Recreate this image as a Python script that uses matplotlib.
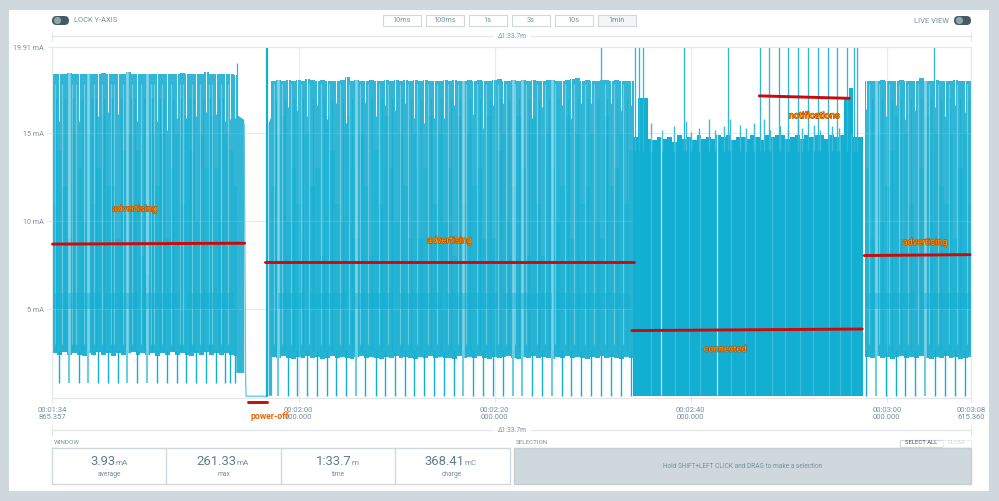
import numpy as np
import matplotlib
matplotlib.use('Agg')
import matplotlib.pyplot as plt
import matplotlib.patheffects as pe
from matplotlib.patches import Rectangle, FancyBboxPatch

plt.rcParams['font.family'] = ['Roboto', 'DejaVu Sans']

# envelopes of the trace, one value per half second (mA)
adv1_top = [18.35,18.4,18.35,18.45,18.35,18.4,18.35,18.4,18.35,18.35,18.45,18.35,18.4,18.35,18.35,18.5,18.35,18.4,18.35,18.35,18.4,18.35,18.4,18.35,18.35,18.4,18.45,18.35,18.4,18.35,18.4,18.5,18.4,18.35,18.4,18.35,18.35,18.3]
adv1_mid = [11,14,12,9,15,13,10,15,11,13,16,12,12,9,14,15,11,14,8,7,15,12,15,9,13,15,11,16,14,10,15,13,16,13,10,15,14,12]
adv1_low = [2.5,2.4,2.55,2.4,2.5,2.4,2.35,2.5,2.4,2.55,2.4,2.5,2.35,2.5,2.4,2.5,2.55,2.4,2.5,2.4,2.5,2.35,2.5,2.4,2.55,2.4,2.5,2.4,2.35,2.5,2.4,2.55,2.4,2.5,2.4,2.5,2.4,2.35]
adv2_top = [18.0,18.05,18.0,18.05,18.0,18.05,18.0,18.1,18.05,18.0,18.05,18.0,18.0,18.0,18.05,18.2,18.0,18.05,18.0,18.0,18.05,18.0,18.0,18.05,18.0,18.05,18.0,18.05,18.0,18.05,18.0,18.05,18.0,18.0,18.0,18.05,18.0,18.05,18.0,18.0,18.05,18.0,18.05,18.0,18.0,18.05,18.1,18.0,18.0,18.05,18.0,18.05,18.0,18.05,18.0,18.0,18.05,18.05,18.0,18.0,18.05,18.1,18.15,18.0,18.05,18.0,18.0,18.05,18.05,18.0,18.05,18.0,18.0,18.0]
adv2_mid = [12,15,16,10,13,11,9,15,12,13,8,16,14,11,10,16,13,9,15,12,8,14,11,16,13,10,15,12,9,15,9,13,16,11,15,10,13,8,16,11,15,12,13,9,16,9,14,15,10,12,16,13,8,16,11,8,15,13,10,12,16,9,15,11,12,15,10,9,16,12,13,15,11,14]
adv2_low = [2.3,2.2,2.35,2.2,2.15,2.3,2.2,2.35,2.2,2.3,2.15,2.2,2.35,2.2,2.3,2.2,2.15,2.3,2.35,2.2,2.3,2.2,2.15,2.3,2.2,2.35,2.2,2.3,2.2,2.15,2.3,2.2,2.35,2.2,2.3,2.2,2.2,2.15,2.35,2.2,2.3,2.2,2.35,2.2,2.15,2.3,2.2,2.3,2.35,2.2,2.15,2.3,2.2,2.35,2.2,2.3,2.2,2.15,2.3,2.2,2.35,2.2,2.3,2.2,2.15,2.3,2.2,2.35,2.2,2.3,2.2,2.15,2.3,2.2]
adv3_top = [17.95,18.0,17.95,18.05,17.95,18.0,17.95,18.05,18.0,17.95,18.0,18.15,18.0,17.95,18.05,18.0,17.95,18.0,18.05,17.95,17.95,17.95]
adv3_mid = [13,9,15,10,12,14,16,9,15,11,9,13,16,10,15,12,11,15,9,13,15,11]
adv3_low = [2.3,2.2,2.35,2.2,2.3,2.15,2.3,2.35,2.2,2.3,2.2,2.35,2.2,2.15,2.3,2.2,2.35,2.2,2.3,2.15,2.2,2.3]
conn_top = [14.8,17.0,17.0,14.7,14.6,14.8,14.7,14.8,14.5,14.9,14.7,14.8,14.6,14.9,14.7,14.8,14.7,14.9,14.8,14.9,14.6,14.8,14.8,14.7,14.9,14.8,14.6,14.9,14.8,14.9,14.9,14.7,14.8,14.9,14.7,14.9,14.8,14.9,14.9,14.7,14.9,14.8,14.9,17.0,17.6,14.8,14.8]

# narrow peaks sticking out of the connected block
conn_peak_t = [155.9,157.1,158.3,159.5,160.0,160.8,161.9,162.5,163.4,164.0,165.0,165.6,166.5,167.5,168.1,169.1,169.9,170.9,171.4,172.6,173.2,174.4,175.1]
conn_peak_v = [15.6,15.2,15.4,15.7,15.1,15.3,15.8,15.2,15.4,15.8,15.5,15.3,15.6,15.8,15.2,15.4,15.2,15.8,15.3,15.5,15.2,15.4,15.3]

# one second beacons: where the trace drops, and how far the top gap reaches (0 = pale column)
adv1_drop_t = [95.56,96.55,97.57,98.55,99.54,100.53,101.55,102.53,103.52,104.54,105.53,106.55,107.57,108.55,109.54,110.56,111.55,112.53,113.04,113.52]
adv1_gap = [15.7,0,15.7,0,16.0,16.2,16.1,0,15.7,0,15.7,15.2,15.9,15.9,16.0,16.2,16.1,15.7,15.8,15.9]
adv2_drop_t = [117.88,118.88,119.85,120.84,121.86,122.88,123.83,124.85,125.84,126.78,127.88,128.83,129.85,130.87,131.82,132.84,133.83,134.82,135.84,136.82,137.81,138.83,139.85,140.87,141.86,142.84,143.80,144.82,145.84,146.86,147.80,148.83,149.85,150.87,151.82,152.84,153.86]
adv2_gap = [0,16.5,16.3,16.0,16.6,15.8,16.7,15.6,0,16.8,16.0,16.6,16.3,16.7,15.9,15.6,15.9,15.9,16.6,0,16.1,15.3,16.6,16.7,0,0,15.9,16.5,0,16.6,15.9,16.7,16.7,16.6,16.7,16.3,16.6]
adv3_drop_t = [177.88,178.86,179.88,180.90,181.89,182.91,183.93,184.95,185.97,186.96,187.94]
adv3_gap = [16.4,0,16.0,16.6,15.8,16.3,0,16.5,16.0,16.6,16.2]

# finer streaks inside the advertising blocks
adv1_pale_t = [95.1,95.9,96.9,97.3,98.1,99.1,99.9,100.9,101.2,102.1,103.0,103.9,104.9,105.2,106.1,107.0,107.9,108.2,109.1,109.9,110.9,111.2,112.1,112.8]
adv1_dark_t = [95.3,96.2,97.0,97.9,98.9,99.3,100.2,101.0,101.9,102.9,103.3,104.2,105.0,105.9,106.3,107.2,108.0,108.9,109.3,110.2,111.0,111.9,112.3]
adv2_pale_t = [117.5,118.3,119.2,120.2,121.1,122.3,123.1,124.2,125.1,126.3,127.1,128.2,129.1,130.3,131.2,132.1,133.2,134.1,135.2,136.3,137.1,138.2,139.1,140.3,141.2,142.1,143.2,144.3,145.1,146.2,147.2,148.1,149.2,150.1,151.3,152.2,153.1]
adv2_dark_t = [117.7,118.6,119.5,120.5,121.5,122.6,123.4,124.5,125.4,126.5,127.5,128.5,129.5,130.6,131.5,132.5,133.5,134.5,135.5,136.5,137.5,138.5,139.5,140.6,141.5,142.5,143.5,144.5,145.5,146.5,147.5,148.5,149.5,150.5,151.5,152.5,153.5]
adv3_pale_t = [178.2,179.2,180.2,181.3,182.2,183.2,184.3,185.2,186.3,187.2,188.2]
adv3_dark_t = [178.5,179.5,180.5,181.5,182.5,183.5,184.5,185.5,186.5,187.5,188.4]

# spikes that leave the top of the view
spike_t = [150.87,154.34,154.74,155.18,159.27,163.80,167.02,167.98,168.96,169.95,170.97,171.96,172.98,173.96,174.95,175.97,176.65,176.92,184.87]
conn_streak_t = [155.9,156.96,158.4,159.8,160.9,162.67,164.1,165.5,166.6,168.3,169.6,171.2,172.5,174.1,175.2,176.4]

# darker band around 5.5 mA
band_start = [94.9,100.2,104.0,108.6,117.9,121.2,125.6,130.2,135.0,140.9,146.3,177.9,183.4]
band_end = [99.8,103.6,107.9,113.4,120.6,124.9,129.6,134.5,140.3,145.9,153.8,182.9,188.6]

# hand drawn averages and their labels
adv1_line_t, adv1_line_v = [94.9,114.5], [8.7,8.75]
off_line_t, off_line_v = [114.85,116.8], [-0.28,-0.28]
adv2_line_t, adv2_line_v = [116.6,154.2], [7.7,7.7]
conn_line_t, conn_line_v = [154.0,177.5], [3.78,3.87]
notif_line_t, notif_line_v = [167.0,176.2], [17.13,16.99]
adv3_line_t, adv3_line_v = [177.7,188.5], [8.05,8.1]

ytick_vals = [5, 10, 15, 19.91]
ytick_labels = ['5 mA', '10 mA', '15 mA', '19.91 mA']
xtick_vals = [94.865, 120, 140, 160, 180, 188.615]
xtick_labels = ['00:01:34\n865.357', '00:02:00\n000.000', '00:02:20\n000.000', '00:02:40\n000.000', '00:03:00\n000.000', '00:03:08\n615.360']
stat_values = ['3.93', '261.33', '1:33.7', '368.41']
stat_units = ['mA', 'mA', 'm', 'mC']
stat_names = ['average', 'max', 'time', 'charge']
zoom_labels = ['10ms', '100ms', '1s', '3s', '10s', '1min']

GREY = '#78909c'
LINE = '#cfd8dc'
TRACE = '#33b6d6'
DARK = '#12afd3'

fig = plt.figure(figsize=(9.99, 5.01), dpi=100, facecolor='#cfd8dc')

# page furniture in pixel coordinates
ui = fig.add_axes([0, 0, 1, 1], zorder=0)
ui.set_xlim(0, 999)
ui.set_ylim(501, 0)
ui.axis('off')
ui.add_patch(Rectangle((9.3, 9.5), 980, 481.5, fc='white', ec='none'))


def toggle(x, y):
    ui.add_patch(FancyBboxPatch((x + 4.5, y + 4.5), 8, 0, boxstyle='round,pad=4.5', fc='#455a64', ec='none'))
    ui.add_patch(plt.Circle((x + 5.5, y + 4.5), 3.6, fc='#90a4ae', ec='none'))


def range_line(y, x1, x2):
    ui.plot([52, x1], [y, y], color='#e3e8eb', lw=1)
    ui.plot([x2, 971], [y, y], color='#e3e8eb', lw=1)
    ui.plot([52, 52], [y - 4.5, y + 4.5], color='#e3e8eb', lw=0.8)
    ui.plot([971, 971], [y - 4.5, y + 4.5], color='#e3e8eb', lw=0.8)
    ui.text(512, y, '\u03941:33.7m', color=GREY, fontsize=4.9, ha='center', va='center')


toggle(52, 16)
toggle(954, 16)
ui.text(73.5, 20.5, 'LOCK Y-AXIS', color=GREY, fontsize=5.4, va='center')
ui.text(949.5, 20.5, 'LIVE VIEW', color=GREY, fontsize=5.5, va='center', ha='right')
for i, lab in enumerate(zoom_labels):
    x = 382.5 + 43 * i
    last = lab == '1min'
    ui.add_patch(Rectangle((x, 15), 38.5, 11, fc='#f3f5f6' if last else 'white', ec=LINE, lw=0.8))
    ui.text(x + 19.2, 20.7, lab, color=GREY, fontsize=5.3, ha='center', va='center')
range_line(36, 492, 531)
range_line(430, 492, 531)

ui.text(53.5, 443, 'WINDOW', color=GREY, fontsize=4.6, va='center')
ui.text(515.5, 443, 'SELECTION', color=GREY, fontsize=4.5, va='center')
ui.add_patch(Rectangle((52, 448), 457.5, 36, fc='white', ec=LINE, lw=1))
for x in [166, 281, 395]:
    ui.plot([x, x], [448, 484], color=LINE, lw=1)
split_x = [115.8, 236.6, 351.6, 464.4]
center_x = [109, 223.5, 337.5, 452]
for i in range(4):
    ui.text(split_x[i], 461.5, stat_values[i], color='#607d8b', fontsize=9.4, ha='right', va='center')
    ui.text(split_x[i], 463, stat_units[i], color=GREY, fontsize=5.8, ha='left', va='center')
    ui.text(center_x[i], 474.5, stat_names[i], color=GREY, fontsize=4.8, ha='center', va='center')
ui.add_patch(Rectangle((514, 448), 457, 36, fc='#cfd8dc', ec='#c3cfd5', lw=1))
ui.text(743, 466, 'Hold SHIFT+LEFT CLICK and DRAG to make a selection', color=GREY, fontsize=4.7, ha='center', va='center')
ui.add_patch(Rectangle((899.5, 439.5), 43, 7, fc='white', ec=LINE, lw=0.8))
ui.add_patch(Rectangle((943, 439.5), 28, 7, fc='white', ec='#eceff1', lw=0.8))
ui.text(921, 443, 'SELECT ALL', color='#455a64', fontsize=4.2, ha='center', va='center')
ui.text(957, 443, 'CLEAR', color='#cfd8dc', fontsize=4.2, ha='center', va='center')

# the trace
ax = fig.add_axes([52.2 / 999, 1 - 398.3 / 501, (971.2 - 52.2) / 999, (398.3 - 47) / 501], zorder=1)
ax.patch.set_alpha(0)
ax.set_xlim(94.865, 188.615)
ax.set_ylim(-0.07, 19.91)


def draw_advert(start, top, mid, low, drop_t, gap, floor, pale_t, dark_t):
    t = start + 0.5 * np.arange(len(top) + 1)
    top = np.array(top + top[-1:])
    mid = np.array(mid + mid[-1:])
    low = np.array(low + low[-1:])
    ax.fill_between(t, low, top, step='post', color=TRACE, lw=0, zorder=2)
    ax.fill_between(t, low, mid, step='post', color=DARK, alpha=0.4, lw=0, zorder=2.1)
    ax.vlines(pale_t, 3, 17.8, color='white', lw=0.8, alpha=0.3, zorder=2.5)
    ax.vlines(dark_t, 2.6, 17, color=DARK, lw=0.9, alpha=0.7, zorder=2.5)
    gap = np.array(gap)
    drop_t = np.array(drop_t)
    solid = gap > 0
    ax.vlines(drop_t[solid], gap[solid], 19, color='white', lw=0.7, alpha=0.9, zorder=3)
    ax.vlines(drop_t[~solid], 2, 19, color='white', lw=1.8, alpha=0.42, zorder=3)
    ax.vlines(drop_t[solid], floor, 2.6, color=DARK, lw=1.0, zorder=3)
    ax.vlines(drop_t[~solid], floor, 2.6, color='#6fcde3', lw=1.5, zorder=3)


draw_advert(94.865, adv1_top, adv1_mid, adv1_low, adv1_drop_t, adv1_gap, 0.8, adv1_pale_t, adv1_dark_t)
draw_advert(117.2, adv2_top, adv2_mid, adv2_low, adv2_drop_t, adv2_gap, 0.06, adv2_pale_t, adv2_dark_t)
draw_advert(177.8, adv3_top, adv3_mid, adv3_low, adv3_drop_t, adv3_gap, 0.06, adv3_pale_t, adv3_dark_t)

# tail before power off, the off period and the restart
ax.fill_between([113.6, 114.4], [1.4, 1.4], [16.1, 15.8], color=TRACE, lw=0, zorder=2)
ax.vlines(113.72, 2, 19, color=TRACE, lw=0.9, zorder=3)
ax.plot([114.45, 114.6, 114.65, 116.6], [15.5, 0.8, 0.05, 0.05], color='#5cc6df', lw=0.9, zorder=3)
ax.fill_between([116.9, 117.25], [0.1, 0.1], [15.6, 16.1], color=TRACE, lw=0, zorder=2)

conn_t = 154.1 + 0.5 * np.arange(len(conn_top) + 1)
ax.fill_between(conn_t, 0.06, conn_top + conn_top[-1:], step='post', color=DARK, lw=0, zorder=4)
ax.vlines(conn_peak_t, 14, conn_peak_v, color='#3dbbd9', lw=1.0, zorder=4.05)
ax.vlines(conn_streak_t, 0.1, 15, color='white', lw=0.9, alpha=0.18, zorder=4.1)
ax.vlines([156.96, 162.67], 0.1, 16, color='white', lw=0.9, alpha=0.6, zorder=4.1)
ax.vlines(spike_t, 14, 19.91, color=TRACE, lw=0.95, zorder=5)
ax.vlines(116.78, 0, 19.91, color=DARK, lw=1.6, zorder=5)

for a, b in zip(band_start, band_end):
    ax.fill_between([a, b], 5.0, 5.9, color=DARK, alpha=0.45, lw=0, zorder=3.5)

for lt, lv in [(adv1_line_t, adv1_line_v), (off_line_t, off_line_v), (adv2_line_t, adv2_line_v),
               (conn_line_t, conn_line_v), (notif_line_t, notif_line_v), (adv3_line_t, adv3_line_v)]:
    ax.plot(lt, lv, color='#cc0a0a', lw=2.1, solid_capstyle='round', clip_on=False, zorder=7)

note = dict(color='#ff9800', fontsize=6.6, ha='center', va='center', zorder=8,
            path_effects=[pe.withStroke(linewidth=0.8, foreground='#b84a00')])
ax.text(103.27, 10.7, 'advertising', **note)
ax.text(135.4, 8.9, 'advertising', **note)
ax.text(183.9, 8.8, 'advertising', **note)
ax.text(163.5, 2.72, 'connected', **note)
ax.text(172.6, 16.0, 'notifications', **note)
ax.text(117.1, -1.08, 'power-off', color='#e8680c', fontsize=6.3, fontweight='bold', ha='center', va='center', clip_on=False, zorder=8)

ax.set_xticks(xtick_vals, xtick_labels)
ax.set_yticks(ytick_vals, ytick_labels)
ax.tick_params(axis='x', labelsize=5.5, labelcolor=GREY, color='#e3e8eb', length=3, width=0.8, pad=3)
ax.tick_params(axis='y', labelsize=5.2, labelcolor=GREY, color='#e3e8eb', length=3, width=0.8, pad=3)
for lab in ax.get_xticklabels():
    lab.set_linespacing(1.2)
ax.grid(True, color='#b0bec5', alpha=0.28, lw=0.8, zorder=6)
ax.set_axisbelow(False)
for s in ax.spines.values():
    s.set_color('#e3e8eb')
    s.set_linewidth(0.8)
    s.set_zorder(6)

fig.savefig('out.png', dpi=100, facecolor=fig.get_facecolor())
